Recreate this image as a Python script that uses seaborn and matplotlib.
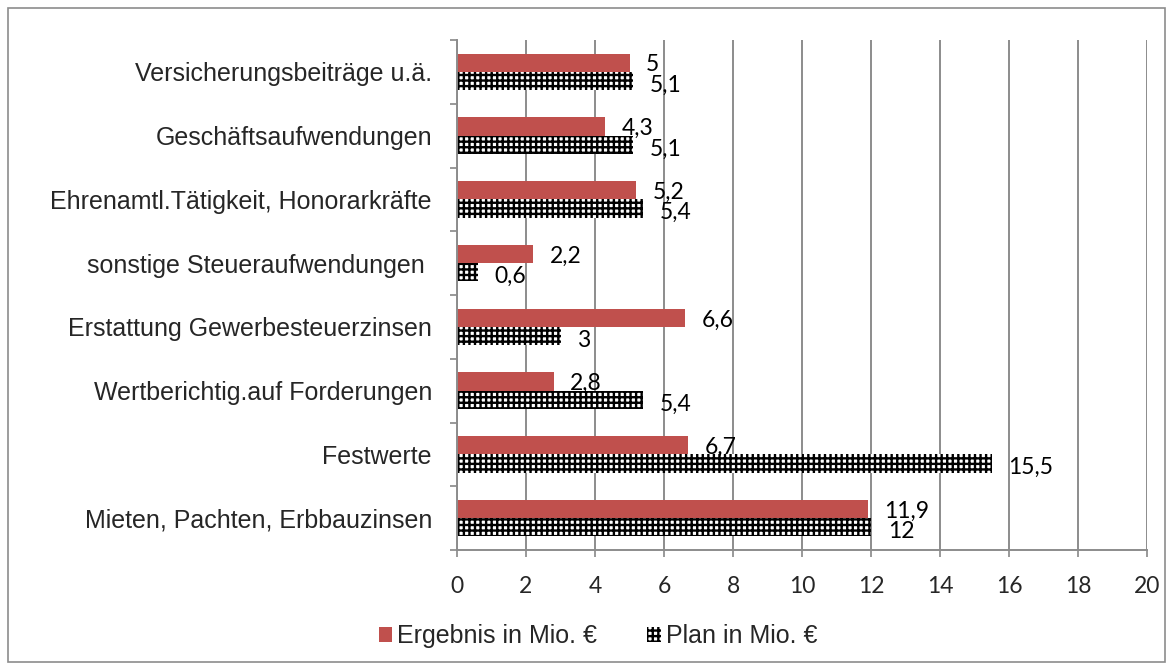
import numpy as np
import pandas as pd
import matplotlib
matplotlib.use('Agg')
import matplotlib.pyplot as plt
from matplotlib.patches import Rectangle
import seaborn as sns

categories = ['Versicherungsbeiträge u.ä.', 'Geschäftsaufwendungen',
              'Ehrenamtl.Tätigkeit, Honorarkräfte', 'sonstige Steueraufwendungen ',
              'Erstattung Gewerbesteuerzinsen', 'Wertberichtig.auf Forderungen',
              'Festwerte', 'Mieten, Pachten, Erbbauzinsen']
ergebnis = [5, 4.3, 5.2, 2.2, 6.6, 2.8, 6.7, 11.9]
plan = [5.1, 5.1, 5.4, 0.6, 3, 5.4, 15.5, 12]
series = ['Ergebnis in Mio. €', 'Plan in Mio. €']
x_ticks = [0, 2, 4, 6, 8, 10, 12, 14, 16, 18, 20]

df = pd.DataFrame({
    'Kategorie': categories * 2,
    'Wert': ergebnis + plan,
    'Reihe': [series[0]] * len(categories) + [series[1]] * len(categories),
})

sns.set_theme(style='white')
plt.rcParams['font.family'] = ['Liberation Sans', 'DejaVu Sans']
plt.rcParams['hatch.linewidth'] = 1.7

num_font = ['Lato', 'DejaVu Sans']

fig = plt.figure(figsize=(11.75, 6.7), dpi=100)
ax = fig.add_axes([457 / 1175, 1 - 550 / 670, 690 / 1175, 510 / 670])

sns.barplot(data=df, y='Kategorie', x='Wert', hue='Reihe', order=categories,
            hue_order=series, palette=['#C0504D', 'white'], width=0.57,
            orient='h', saturation=1, legend=False, ax=ax)

red_bars, plan_bars = ax.containers
for p in red_bars:
    p.set_linewidth(0)
for p in plan_bars:
    p.set_facecolor('white')
    p.set_edgecolor('black')
    p.set_hatch('+++')
    p.set_linewidth(0)

fmt = lambda v: f'{v:g}'.replace('.', ',')
for cont, vals, dy in [(red_bars, ergebnis, -1.5), (plan_bars, plan, -3)]:
    for p, v in zip(cont.patches, vals):
        ax.annotate(fmt(v), (p.get_x() + p.get_width(), p.get_y() + p.get_height() / 2),
                    xytext=(12, dy), textcoords='offset points', ha='left', va='center',
                    fontsize=16.5, family=num_font, color='black')

ax.set_xlim(0, 20)
ax.set_ylim(len(categories) - 0.5, -0.5)
ax.set_xticks(x_ticks)
ax.set_xticklabels([str(t) for t in x_ticks], family=num_font, fontsize=16.5)
ax.set_yticks(range(len(categories)))
ax.set_yticklabels(categories, fontsize=18)
ax.set_yticks(np.arange(-0.5, len(categories), 1), minor=True)
ax.tick_params(axis='y', which='major', length=0, pad=18)
ax.tick_params(axis='y', which='minor', length=5, width=1.2, color='#888888', direction='out', left=True)
ax.tick_params(axis='x', which='major', length=5, width=1.2, color='#888888', direction='out',
               bottom=True, pad=14)
ax.set_xlabel('')
ax.set_ylabel('')

ax.grid(axis='x', color='#8c8c8c', linewidth=1.4)
ax.set_axisbelow(True)
for s in ['top', 'right']:
    ax.spines[s].set_visible(False)
for s in ['left', 'bottom']:
    ax.spines[s].set_color('#8c8c8c')
    ax.spines[s].set_linewidth(1.4)

fig.legend(list(ax.containers), series, loc='center', bbox_to_anchor=(598 / 1175, 1 - 636 / 670),
           ncol=2, frameon=False, fontsize=18, handlelength=0.55, handleheight=0.55,
           handletextpad=0.2, columnspacing=2.0)

fig.patches.append(Rectangle((8 / 1175, 8 / 670), 1157 / 1175, 654 / 670, transform=fig.transFigure,
                             fill=False, edgecolor='#8c8c8c', linewidth=1.2))

fig.savefig('out.png', dpi=100)
